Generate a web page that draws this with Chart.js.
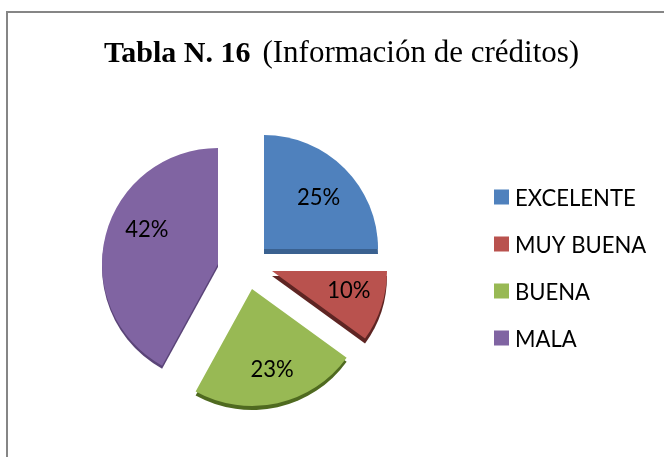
<!DOCTYPE html>
<html><head><meta charset="utf-8">
<style>html,body{margin:0;padding:0;background:#fff;overflow:hidden}#w{position:absolute;left:0;top:0;width:664px;height:457px}</style>
<script src="https://cdn.jsdelivr.net/npm/chart.js@4"></script>
</head><body><div id="w"><canvas id="c" width="664" height="457"></canvas></div>
<script>
const categories = ["EXCELENTE","MUY BUENA","BUENA","MALA"];
const values = [25,10,23,42];
const colors = ["#4f81bd","#b9524e","#98b954","#8064a2"];
const depthColors = ["#3a6190","#5e2523","#4f6a20","#5a4478"];
const sliceShift = [[21,-17],[29,5],[9,23],[-25,-2]];
const sliceRadius = [114,115,117,116];
const sliceDepth = [5,5,4,3];
const labelNudge = [[-1,4],[2,-5],[3,3],[5,-15]];
const titleBold = "Tabla N. 16";
const titleRest = "(Información de créditos)";
const textSize = 24, textSqueeze = 0.92;

function squeezed(g,t,x,y){g.save();g.translate(x,y);g.scale(textSqueeze,1);g.fillText(t,0,0);g.restore();}

const explodeP = {id:"explodeP",afterDatasetsUpdate(ch){ch.getDatasetMeta(0).data.forEach((a,i)=>{a.x+=sliceShift[i][0];a.y+=sliceShift[i][1];a.outerRadius=sliceRadius[i];});}};
const frame = {id:"frame",beforeDraw(ch){const g=ch.ctx;g.save();g.strokeStyle="#868686";g.lineWidth=2;
  g.beginPath();g.moveTo(7,458);g.lineTo(7,12);g.lineTo(665,12);g.stroke();g.restore();}};
const titleP = {id:"titleP",afterDraw(ch){const g=ch.ctx;g.save();g.fillStyle="#000";g.textBaseline="alphabetic";g.textAlign="left";
  g.font="bold 30px 'Liberation Serif'";g.fillText(titleBold,104,62);const x=104+g.measureText(titleBold).width+12;
  g.font="31px 'Liberation Serif'";g.fillText(titleRest,x,62);g.restore();}};
const depth = {id:"depth",beforeDatasetsDraw(ch){const g=ch.ctx;ch.getDatasetMeta(0).data.forEach((a,i)=>{
  const p=a.getProps(["x","y","startAngle","endAngle","outerRadius"],true);
  const y=p.y+sliceDepth[i];
  g.save();g.fillStyle=depthColors[i];g.beginPath();g.moveTo(p.x,y);g.arc(p.x,y,p.outerRadius,p.startAngle,p.endAngle);g.closePath();g.fill();g.restore();});}};
const labelsP = {id:"labelsP",afterDatasetsDraw(ch){const g=ch.ctx;g.save();g.fillStyle="#000";g.font=textSize+"px Lato";g.textAlign="center";g.textBaseline="middle";
  ch.getDatasetMeta(0).data.forEach((a,i)=>{const p=a.getProps(["x","y","startAngle","endAngle"],true);
  const m=(p.startAngle+p.endAngle)/2,d=114*0.69;
  squeezed(g,values[i]+"%",p.x+Math.cos(m)*d+labelNudge[i][0],p.y+Math.sin(m)*d+labelNudge[i][1]);});g.restore();}};
const legendP = {id:"legendP",afterDraw(ch){const g=ch.ctx;g.save();g.font=textSize+"px Lato";g.textAlign="left";g.textBaseline="middle";
  categories.forEach((t,i)=>{const y=197+47*i;g.fillStyle=colors[i];g.fillRect(494,y-7.5,15,15);g.fillStyle="#000";squeezed(g,t,515,y+1);});g.restore();}};

new Chart(document.getElementById("c"),{type:"pie",
 data:{labels:categories,datasets:[{data:values,backgroundColor:colors,borderWidth:0,hoverOffset:0}]},
 options:{responsive:false,animation:false,rotation:0,radius:114,
  layout:{padding:{left:0,top:75,bottom:0,right:178}},
  plugins:{title:{display:false},tooltip:{enabled:false},legend:{display:false}}},
 plugins:[explodeP,frame,depth,labelsP,legendP,titleP]});
</script></body></html>
